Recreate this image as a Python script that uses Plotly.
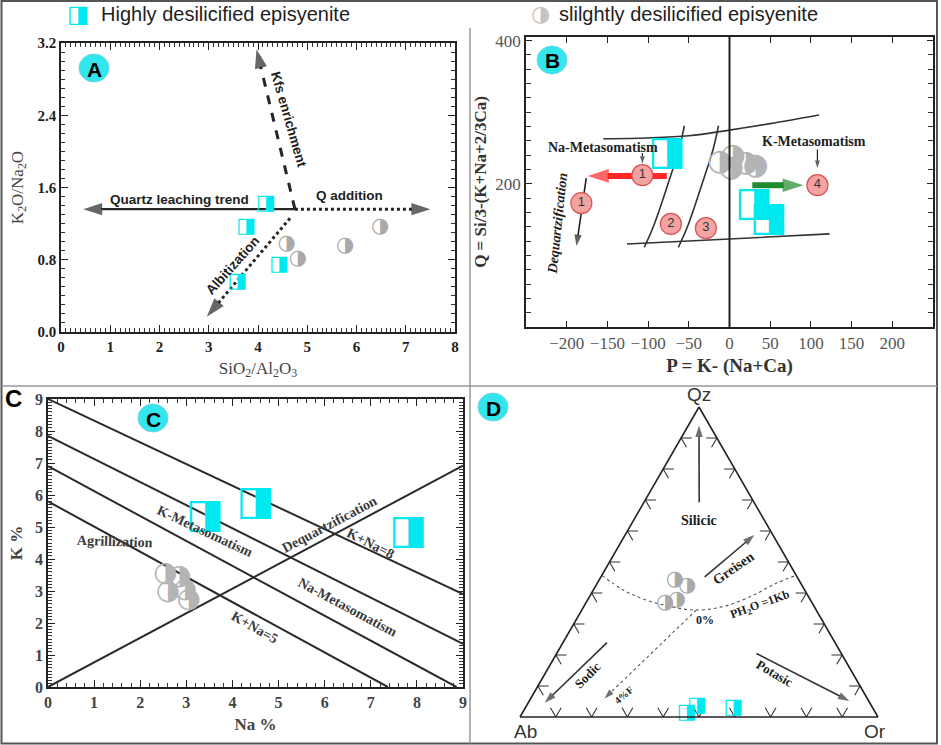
import plotly.graph_objects as go

W, H = 941, 745
SANS = "Liberation Sans, Arial, sans-serif"
SERIF = "Liberation Serif, Times New Roman, serif"
GLYPH = "DejaVu Sans"
CYAN = "#00e8f0"
GRAY = "#a9a9a9"
INK = "#1e1e1e"

# ---------------- Panel A : K2O/Na2O vs SiO2/Al2O3 ----------------
a_high_x = [4.16, 3.76, 4.43, 3.58]
a_high_y = [1.42, 1.17, 0.75, 0.56]
a_slight_x = [4.58, 4.81, 5.77, 6.48]
a_slight_y = [0.98, 0.81, 0.95, 1.17]
a_trend_labels = ["Quartz leaching trend", "Q addition", "Kfs enrichment", "Albitization"]
a_trend_x0 = [4.75, 4.75, 4.75, 4.65]
a_trend_y0 = [1.36, 1.36, 1.36, 1.26]
a_trend_x1 = [0.45, 7.50, 3.97, 2.96]
a_trend_y1 = [1.36, 1.36, 3.13, 0.17]
a_label_x = [2.40, 5.85, 4.62, 3.48]
a_label_y = [1.47, 1.51, 2.35, 0.74]

# ---------------- Panel B : Q vs P ----------------
b_high_x = [-77, 30, 48]
b_high_y = [242, 170, 150]
b_slight_x = [-12, 4, 20, 32, 2]
b_slight_y = [230, 238, 229, 224, 221]
b_upper_x = [-155, -100, -50, 0, 50, 110]
b_upper_y = [263, 264, 267, 275, 284, 296]
b_lower_x = [-126, 0, 123]
b_lower_y = [116, 123, 130]
b_curve2_x = [-104.7, -92.4, -73.1, -61.6, -55.4]
b_curve3_x = [-62.8, -50.5, -31.2, -19.7, -13.5]
b_curve_y = [111.2, 143.6, 208.4, 250.1, 281.1]
b_num_labels = ["1", "1", "2", "3", "4"]
b_num_x = [-107, -182, -72, -29, 108]
b_num_y = [212, 173, 144, 138, 198]
b_text = ["Na-Metasomatism", "K-Metasomatism", "Dequartzification"]
b_text_x = [-156, 104, -211]
b_text_y = [251, 259, 144]
# arrows: red Na, green K, black dequartzification, small Na, small K
b_arrow_x0 = [-77, 28, -176, -107, 108]
b_arrow_y0 = [211, 198, 208, 243, 248]
b_arrow_x1 = [-174, 91, -188, -107, 108]
b_arrow_y1 = [211, 198, 113, 228, 222]

# ---------------- Panel C : K% vs Na% ----------------
c_high_x = [3.40, 4.50, 7.81]
c_high_y = [5.32, 5.73, 4.80]
c_slight_x = [2.55, 2.60, 2.85, 2.97, 3.05]
c_slight_y = [3.52, 2.98, 3.45, 3.02, 2.72]
c_line_x0 = [0, 0, 0, 0, 0]
c_line_y0 = [9.0, 7.85, 6.9, 5.8, 0]
c_line_x1 = [9, 9, 8.86, 7.37, 9]
c_line_y1 = [2.9, 1.35, 0, 0, 6.92]
c_text = ["Agrillization", "K-Metasomatism", "Dequartzification", "K+Na=8", "Na-Metasomatism", "K+Na=5"]
c_text_x = [1.46, 3.41, 6.10, 6.99, 6.51, 4.48]
c_text_y = [4.56, 4.85, 5.08, 4.48, 2.50, 1.85]

# ---------------- Panel D : Qz-Ab-Or ternary (percent) ----------------
d_high_qz = [1.3, 3.5, 3.0]
d_high_or = [45.9, 47.7, 58.1]
d_slight_qz = [44.4, 42.2, 36.7, 37.8]
d_slight_or = [21.1, 25.6, 22.2, 24.9]
d_ph2o_qz = [45.7, 40.8, 38.0, 35.6, 34.5, 35.6, 39.1, 43.0, 45.7]
d_ph2o_or = [0.0, 8.7, 15.6, 24.2, 32.0, 38.9, 45.3, 49.8, 54.3]
d_f4_qz = [34.5, 6.0]
d_f4_or = [32.0, 20.6]
# arrows: Silicic, Greisen, Sodic, Potasic
d_arrow_qz0 = [69.3, 45.2, 24.0, 20.5]
d_arrow_or0 = [15.4, 29.0, 12.3, 55.8]
d_arrow_qz1 = [94.0, 58.7, 4.6, 5.2]
d_arrow_or1 = [3.0, 36.1, 4.6, 89.4]
d_ticks = [10, 20, 30, 40, 50, 60, 70, 80, 90]


def fx(p):
    return p / W


def fy(p):
    return 1 - p / H


fig = go.Figure()


def add_arrow(x0, y0, x1, y1, xa, ya, color, width, dash, head):
    fig.add_trace(go.Scatter(
        x=[x0, x1], y=[y0, y1], xaxis=xa, yaxis=ya, mode="lines+markers",
        line=dict(color=color, width=width, dash=dash),
        marker=dict(symbol=["circle", "arrow"], size=[0, head], color=color,
                    angleref="previous", line=dict(width=0)),
        hoverinfo="skip", showlegend=False, cliponaxis=False))


def add_glyphs(xs, ys, glyph, color, size, xa, ya):
    fig.add_trace(go.Scatter(
        x=xs, y=ys, xaxis=xa, yaxis=ya, mode="text", text=[glyph] * len(xs),
        textfont=dict(family=GLYPH, size=size, color=color),
        hoverinfo="skip", showlegend=False, cliponaxis=False))


# ---- Panel A traces ----
a_styles = [("solid", 2.2), ("dot", 3), ("dash", 3), ("dot", 3)]
for i in range(len(a_trend_labels)):
    dash, wdt = a_styles[i]
    add_arrow(a_trend_x0[i], a_trend_y0[i], a_trend_x1[i], a_trend_y1[i], "x", "y", "#262626", wdt, dash, 20)
add_glyphs(a_slight_x, a_slight_y, "◑", GRAY, 21, "x", "y")
add_glyphs(a_high_x, a_high_y, "◨", CYAN, 21, "x", "y")

# ---- Panel B traces ----
for cx in (b_curve2_x, b_curve3_x):
    fig.add_trace(go.Scatter(x=cx, y=b_curve_y, xaxis="x2", yaxis="y2", mode="lines",
                             line=dict(color="#333", width=1.6, shape="spline"),
                             hoverinfo="skip", showlegend=False))
fig.add_trace(go.Scatter(x=b_upper_x, y=b_upper_y, xaxis="x2", yaxis="y2", mode="lines",
                         line=dict(color="#333", width=1.6, shape="spline"), hoverinfo="skip", showlegend=False))
fig.add_trace(go.Scatter(x=b_lower_x, y=b_lower_y, xaxis="x2", yaxis="y2", mode="lines",
                         line=dict(color="#333", width=1.6, shape="spline"), hoverinfo="skip", showlegend=False))
b_arrow_style = [("#ff2626", 6, 22), ("#1f8a2e", 6, 22), ("#222", 1.6, 12), ("#222", 1.2, 8), ("#222", 1.2, 8)]
for i in range(len(b_arrow_x0)):
    col, wdt, hd = b_arrow_style[i]
    add_arrow(b_arrow_x0[i], b_arrow_y0[i], b_arrow_x1[i], b_arrow_y1[i], "x2", "y2", col, wdt, "solid", hd)
add_glyphs(b_slight_x, b_slight_y, "◑", "#b4b4b4", 30, "x2", "y2")
add_glyphs(b_high_x, b_high_y, "◨", CYAN, 40, "x2", "y2")
fig.add_trace(go.Scatter(
    x=b_num_x, y=b_num_y, xaxis="x2", yaxis="y2", mode="markers+text", text=b_num_labels,
    textposition="middle center", textfont=dict(family=SANS, size=13, color="#333"),
    marker=dict(size=21, color="#f4a3a3", line=dict(color="#d9534f", width=1.2)),
    hoverinfo="skip", showlegend=False))

# ---- Panel C traces ----
for i in range(len(c_line_x0)):
    fig.add_trace(go.Scatter(x=[c_line_x0[i], c_line_x1[i]], y=[c_line_y0[i], c_line_y1[i]],
                             xaxis="x3", yaxis="y3", mode="lines", line=dict(color="#2a2a2a", width=2),
                             hoverinfo="skip", showlegend=False))
add_glyphs(c_slight_x, c_slight_y, "◑", "#b4b4b4", 28, "x3", "y3")
add_glyphs(c_high_x, c_high_y, "◨", CYAN, 40, "x3", "y3")

# ---- Panel D traces (ternary a=Qz, b=Ab, c=Or) ----
def ab_of(q, o):
    return [100 - qq - oo for qq, oo in zip(q, o)]

dch = 3.0
ca, cb, cc = [], [], []
for t in d_ticks:
    # bottom edge (Qz = 0): V shapes
    ca += [dch, 0, dch, None]; cb += [100 - t - dch, 100 - t, 100 - t, None]; cc += [t, t, t - dch, None]
    # left edge (Or = 0)
    ca += [t, t, t - dch, None]; cb += [100 - t - dch, 100 - t, 100 - t, None]; cc += [dch, 0, dch, None]
    # right edge (Ab = 0)
    ca += [t, t, t - dch, None]; cb += [dch, 0, dch, None]; cc += [100 - t - dch, 100 - t, 100 - t, None]
fig.add_trace(go.Scatterternary(a=ca, b=cb, c=cc, mode="lines", line=dict(color="#333", width=1.1),
                                hoverinfo="skip", showlegend=False, connectgaps=False))
fig.add_trace(go.Scatterternary(a=d_ph2o_qz, b=ab_of(d_ph2o_qz, d_ph2o_or), c=d_ph2o_or, mode="lines",
                                line=dict(color="#555", width=1.1, dash="dot", shape="spline"),
                                hoverinfo="skip", showlegend=False))
fig.add_trace(go.Scatterternary(a=d_f4_qz, b=ab_of(d_f4_qz, d_f4_or), c=d_f4_or, mode="lines+markers",
                                line=dict(color="#555", width=1.1, dash="dot"),
                                marker=dict(symbol=["circle", "arrow"], size=[0, 10], color="#333",
                                            angleref="previous", line=dict(width=0)),
                                hoverinfo="skip", showlegend=False))
for i in range(len(d_arrow_qz0)):
    qz = [d_arrow_qz0[i], d_arrow_qz1[i]]
    orr = [d_arrow_or0[i], d_arrow_or1[i]]
    fig.add_trace(go.Scatterternary(a=qz, b=ab_of(qz, orr), c=orr, mode="lines+markers",
                                    line=dict(color="#333", width=1.6),
                                    marker=dict(symbol=["circle", "arrow"], size=[0, 12], color="#333",
                                                angleref="previous", line=dict(width=0)),
                                    hoverinfo="skip", showlegend=False))
fig.add_trace(go.Scatterternary(a=d_slight_qz, b=ab_of(d_slight_qz, d_slight_or), c=d_slight_or,
                                mode="text", text=["◑"] * len(d_slight_qz),
                                textfont=dict(family=GLYPH, size=21, color=GRAY),
                                hoverinfo="skip", showlegend=False, cliponaxis=False))
fig.add_trace(go.Scatterternary(a=d_high_qz, b=ab_of(d_high_qz, d_high_or), c=d_high_or,
                                mode="text", text=["◨"] * len(d_high_qz),
                                textfont=dict(family=GLYPH, size=21, color=CYAN),
                                hoverinfo="skip", showlegend=False, cliponaxis=False))

# ---------------- Annotations ----------------
ann = []


def pnote(x, y, text, font, angle=0, xanchor="center"):
    ann.append(dict(x=fx(x), y=fy(y), xref="paper", yref="paper", text=text, showarrow=False,
                    xanchor=xanchor, yanchor="middle", textangle=angle, font=font))


# legend
pnote(78, 14, "◨", dict(family=GLYPH, size=24, color=CYAN))
pnote(99, 14, "Highly desilicified episyenite", dict(family=SANS, size=20, color=INK), xanchor="left")
pnote(540, 14, "◑", dict(family=GLYPH, size=22, color="#c4c4c4"))
pnote(557, 14, "slilghtly desilicified episyenite", dict(family=SANS, size=20, color=INK), xanchor="left")

# panel A labels
a_angles = [0, 0, 74, -48]
for i, t in enumerate(a_trend_labels):
    ann.append(dict(x=a_label_x[i], y=a_label_y[i], xref="x", yref="y", text=t, showarrow=False,
                    xanchor="center", yanchor="middle", textangle=a_angles[i],
                    font=dict(family=SANS, size=13.5, color=INK, weight="bold")))
# panel B labels
b_angles = [0, 0, -84]
for i, t in enumerate(b_text):
    style = "italic" if i == 2 else "normal"
    ann.append(dict(x=b_text_x[i], y=b_text_y[i], xref="x2", yref="y2", text=t, showarrow=False,
                    xanchor="center", yanchor="middle", textangle=b_angles[i],
                    font=dict(family=SERIF, size=14, color=INK, weight="bold", style=style)))
# panel C labels
c_angles = [2, 25, -28, 27, 28, 30]
for i, t in enumerate(c_text):
    ann.append(dict(x=c_text_x[i], y=c_text_y[i], xref="x3", yref="y3", text=t, showarrow=False,
                    xanchor="center", yanchor="middle", textangle=c_angles[i],
                    font=dict(family=SERIF, size=14, color="#3a3a3a", weight="bold")))
# panel D labels (paper)
d_labels = [("Qz", 699, 394, 0, SANS, 19, "normal"), ("Ab", 525, 731, 0, SANS, 19, "normal"),
            ("Or", 875, 731, 0, SANS, 19, "normal"),
            ("Silicic", 699, 520, 0, SERIF, 14, "bold"), ("Greisen", 733, 568, -35, SERIF, 14, "bold"),
            ("PH<sub>2</sub>O =1Kb", 760, 605, -20, SERIF, 12, "bold"), ("0%", 705, 620, 0, SERIF, 12, "bold"),
            ("Sodic", 587, 675, -45, SERIF, 13, "bold"), ("4%F", 623, 695, -40, SERIF, 10, "bold"),
            ("Potasic", 775, 673, 30, SERIF, 13, "bold")]
for t, x, y, ang, fam, sz, wt in d_labels:
    pnote(x, y, t, dict(family=fam, size=sz, color="#333" if fam == SANS else INK, weight=wt), angle=ang)

# panel badges
badges = [("A", 94, 68), ("B", 552, 60), ("C", 153, 418), ("D", 493, 407)]
shapes = []
for letter, x, y in badges:
    shapes.append(dict(type="circle", xref="paper", yref="paper", x0=fx(x - 15), x1=fx(x + 15),
                       y0=fy(y + 14), y1=fy(y - 14), fillcolor="#33e6ee", line=dict(color="#6fd8e0", width=1),
                       layer="below"))
    pnote(x, y + 1, letter, dict(family=SANS, size=21, color="#000", weight="bold"))
pnote(13, 398, "C", dict(family=SANS, size=24, color="#000", weight="bold"))

# frame lines
shapes.append(dict(type="rect", xref="paper", yref="paper", x0=fx(1.5), x1=fx(937), y0=fy(743.5), y1=fy(1),
                   line=dict(color="#555", width=2), layer="below"))
shapes.append(dict(type="line", xref="paper", yref="paper", x0=fx(470), x1=fx(470), y0=fy(743.5), y1=fy(28),
                   line=dict(color="#999", width=1.5)))
shapes.append(dict(type="line", xref="paper", yref="paper", x0=fx(1.5), x1=fx(937), y0=fy(386), y1=fy(386),
                   line=dict(color="#999", width=1.5)))
# vertical P = 0 line in B
shapes.append(dict(type="line", xref="x2", yref="y2 domain", x0=0, x1=0, y0=0, y1=1,
                   line=dict(color="#222", width=2)))


def box_axis(**kw):
    base = dict(showline=True, linecolor="#222", linewidth=1.6, mirror="allticks", ticks="inside",
                ticklen=7, tickwidth=1.2, tickcolor="#222", showgrid=False, zeroline=False,
                automargin=False)
    base.update(kw)
    return base


def minor(d, ln=4):
    return dict(ticks="inside", ticklen=ln, tickwidth=1, tickcolor="#333", dtick=d, showgrid=False)


boldtick = dict(family=SERIF, size=15, color=INK, weight="bold")

fig.update_layout(
    width=W, height=H, margin=dict(l=0, r=0, t=0, b=0, autoexpand=False),
    paper_bgcolor="white", plot_bgcolor="white",
    showlegend=False, hovermode=False,
    xaxis=box_axis(domain=[fx(61), fx(455)], anchor="y", range=[0, 8], dtick=1, minor=minor(0.1),
                   tickfont=boldtick,
                   title=dict(text="SiO<sub>2</sub>/Al<sub>2</sub>O<sub>3</sub>", standoff=8,
                              font=dict(family=SERIF, size=17, color="#444"))),
    yaxis=box_axis(domain=[fy(332), fy(43)], anchor="x", range=[0, 3.2], dtick=0.8, tickformat=".1f",
                   minor=minor(0.1), tickfont=boldtick,
                   title=dict(text="K<sub>2</sub>O/Na<sub>2</sub>O", standoff=10,
                              font=dict(family=SERIF, size=17, color="#444"))),
    xaxis2=box_axis(domain=[fx(526), fx(933)], anchor="y2", range=[-250, 250],
                    tickvals=[-200, -150, -100, -50, 0, 50, 100, 150, 200], ticklen=6,
                    tickfont=dict(family=SERIF, size=17, color="#555"),
                    title=dict(text="P = K- (Na+Ca)", standoff=6,
                               font=dict(family=SERIF, size=19, color="#333", weight="bold"))),
    yaxis2=box_axis(domain=[fy(327), fy(37)], anchor="x2", range=[0, 405], tickvals=[200, 400],
                    ticklen=6, minor=minor(20, 5),
                    tickfont=dict(family=SERIF, size=17, color="#555"),
                    title=dict(text="Q = Si/3-(K+Na+2/3Ca)", standoff=4,
                               font=dict(family=SERIF, size=17, color="#333", weight="bold"))),
    xaxis3=box_axis(domain=[fx(48), fx(463)], anchor="y3", range=[0, 9], dtick=1, minor=minor(0.2),
                    tickfont=dict(family=SERIF, size=16, color="#444", weight="bold"),
                    title=dict(text="Na %", standoff=8,
                               font=dict(family=SERIF, size=17, color="#444", weight="bold"))),
    yaxis3=box_axis(domain=[fy(687), fy(399)], anchor="x3", range=[0, 9], dtick=1, minor=minor(0.1),
                    tickfont=dict(family=SERIF, size=16, color="#444", weight="bold"),
                    title=dict(text="K %", standoff=8,
                               font=dict(family=SERIF, size=17, color="#444", weight="bold"))),
    ternary=dict(
        domain=dict(x=[fx(499), fx(899)], y=[fy(717), fy(407)]), sum=100, bgcolor="rgba(0,0,0,0)",
        aaxis=dict(title=dict(text=""), showticklabels=False, ticks="", showgrid=False,
                   linecolor="#222", linewidth=1.6),
        baxis=dict(title=dict(text=""), showticklabels=False, ticks="", showgrid=False,
                   linecolor="#222", linewidth=1.6),
        caxis=dict(title=dict(text=""), showticklabels=False, ticks="", showgrid=False,
                   linecolor="#222", linewidth=1.6),
    ),
    annotations=ann, shapes=shapes,
)

fig.write_html("out.html", config={"displayModeBar": False},
               post_script="document.body.style.margin='0px';")
